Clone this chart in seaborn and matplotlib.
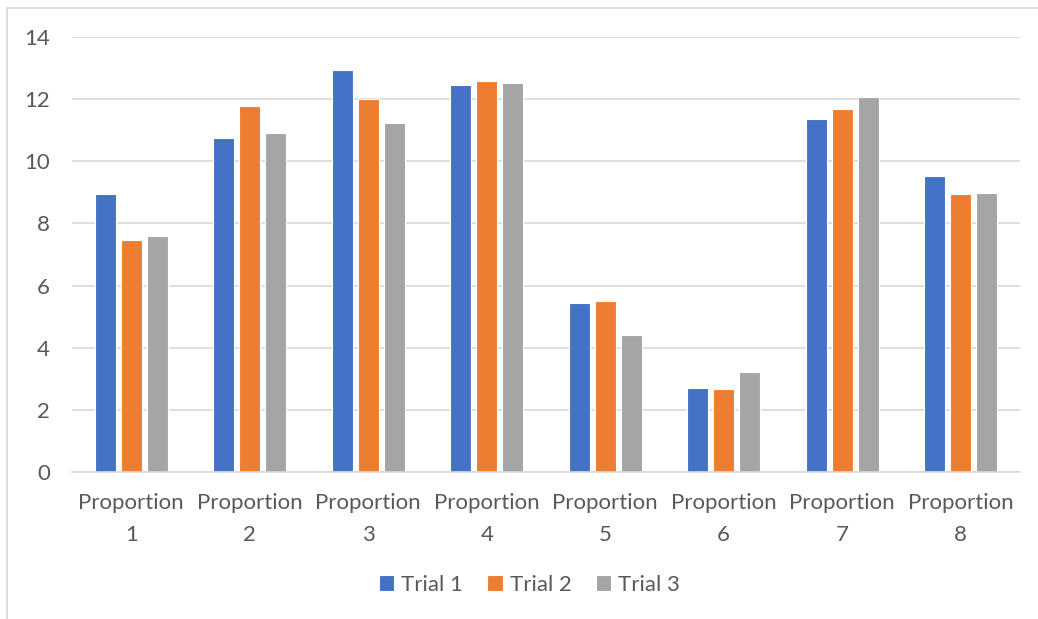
import pandas as pd
import numpy as np
import seaborn as sns
import matplotlib.pyplot as plt
from matplotlib.lines import Line2D

# Datos
categorias = ["Proportion\n1", "Proportion\n2", "Proportion\n3", "Proportion\n4",
              "Proportion\n5", "Proportion\n6", "Proportion\n7", "Proportion\n8"]
trial_1 = [8.94, 10.76, 12.93, 12.46, 5.45, 2.69, 11.37, 9.53]
trial_2 = [7.46, 11.77, 12.00, 12.57, 5.49, 2.67, 11.68, 8.94]
trial_3 = [7.60, 10.91, 11.23, 12.51, 4.42, 3.22, 12.08, 8.98]
series = ["Trial 1", "Trial 2", "Trial 3"]
colores = ["#4472C4", "#ED7D31", "#A5A5A5"]

data = pd.DataFrame({
    "categoria": categorias * 3,
    "valor": trial_1 + trial_2 + trial_3,
    "serie": [s for s in series for _ in categorias],
})

sns.set_style("white")
plt.rcParams["font.family"] = ["Lato", "DejaVu Sans"]

fig = plt.figure(figsize=(10.38, 6.19), dpi=100)
ax = fig.add_axes([72 / 1038, 1 - 472 / 619, (1020 - 72) / 1038, (472 - 37) / 619])

sns.barplot(data=data, x="categoria", y="valor", hue="serie", palette=colores,
            width=0.66, gap=0.2, ax=ax, saturation=1, edgecolor="white", linewidth=0.8)

ax.set_ylim(0, 14)
ax.set_yticks(np.arange(0, 15, 2))
ax.set_xlim(-0.5, 7.5)
ax.grid(axis="y", color="#D9D9D9", linewidth=1.2)
ax.set_axisbelow(True)
for s in ["top", "right", "left"]:
    ax.spines[s].set_visible(False)
ax.spines["bottom"].set_color("#D9D9D9")
ax.spines["bottom"].set_linewidth(1.2)
ax.set_xlabel("")
ax.set_ylabel("")
ax.tick_params(axis="both", length=0, colors="#595959", labelsize=16)
ax.tick_params(axis="x", pad=15)
ax.tick_params(axis="y", pad=16)
for t in ax.get_xticklabels():
    t.set_linespacing(1.75)

sns.move_legend(ax, "center", bbox_to_anchor=(0.51, (619 - 585) / 619), bbox_transform=fig.transFigure,
                ncol=3, frameon=False, title=None, fontsize=16, handlelength=0.7, handleheight=0.7,
                columnspacing=1.1, handletextpad=0.3, labelcolor="#595959")

# Borde del grafico (solo arriba e izquierda visibles)
fig.add_artist(Line2D([7 / 1038, 7 / 1038], [0, 1 - 8 / 619], transform=fig.transFigure,
                      color="#D9D9D9", linewidth=1.2))
fig.add_artist(Line2D([7 / 1038, 1], [1 - 8 / 619, 1 - 8 / 619], transform=fig.transFigure,
                      color="#D9D9D9", linewidth=1.2))

fig.savefig("out.png", dpi=100)
